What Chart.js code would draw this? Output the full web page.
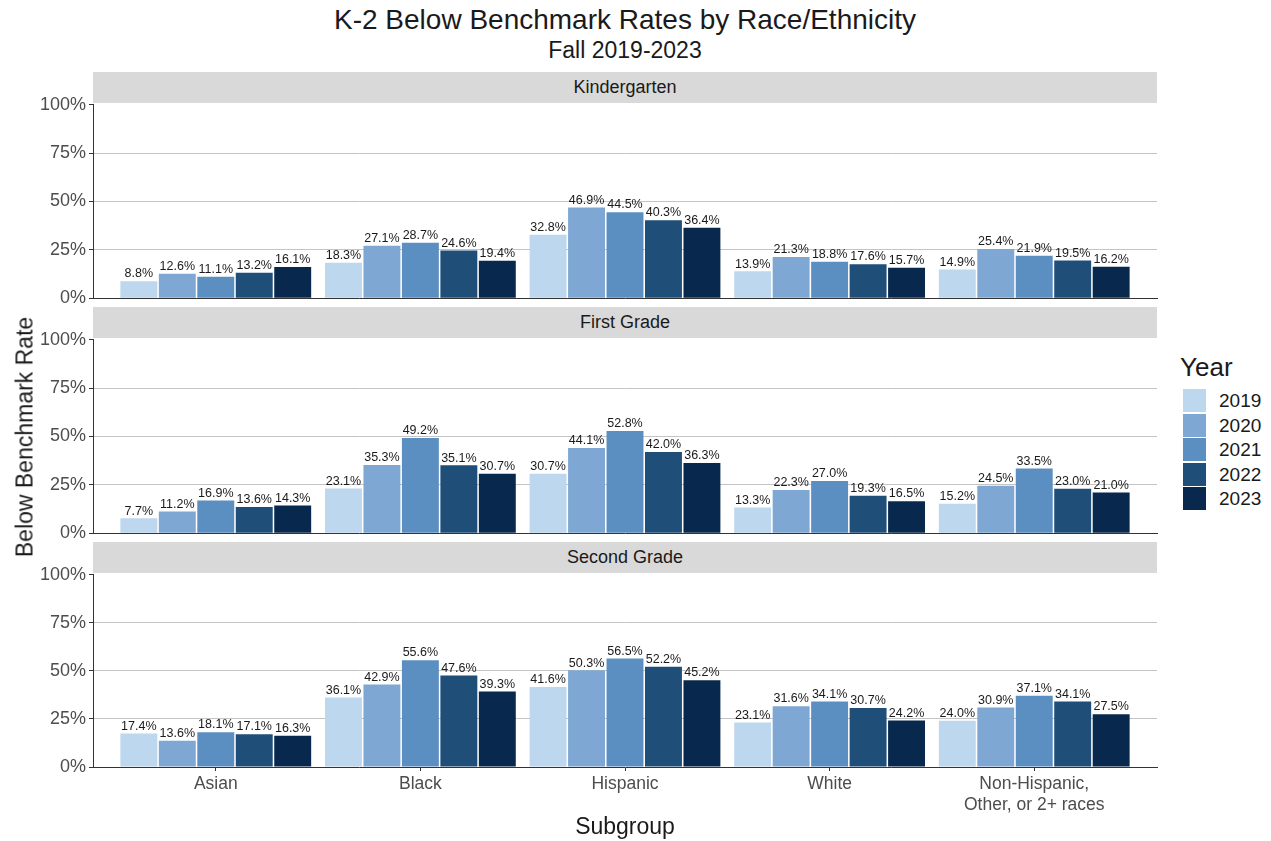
<!DOCTYPE html>
<html>
<head>
<meta charset="utf-8">
<script src="https://cdn.jsdelivr.net/npm/chart.js@4.4.1/dist/chart.umd.min.js"></script>
<style>
  body { margin: 0; background: #fff; }
  #wrap { position: relative; width: 1271px; height: 841px; font-family: "Liberation Sans", Arial, sans-serif; color: #1a1a1a; }
  .abs { position: absolute; white-space: nowrap; }
  .strip { position: absolute; left: 93px; width: 1064px; height: 31px; background: #d9d9d9; text-align: center; line-height: 31px; font-size: 18px; color: #1a1a1a; }
  canvas { position: absolute; left: 0; }
  .key { position: absolute; left: 1183px; width: 23px; height: 23px; }
  .keylab { position: absolute; left: 1219px; font-size: 19px; line-height: 23px; }
</style>
</head>
<body>
<div id="wrap">
  <div class="abs" style="left:0;width:1250px;top:3px;text-align:center;font-size:28px;line-height:34px;">K-2 Below Benchmark Rates by Race/Ethnicity</div>
  <div class="abs" style="left:0;width:1250px;top:36px;text-align:center;font-size:23px;line-height:28px;">Fall 2019-2023</div>

  <div class="strip" style="top:72px;">Kindergarten</div>
  <div class="strip" style="top:307px;">First Grade</div>
  <div class="strip" style="top:542px;">Second Grade</div>

  <canvas id="c0" style="top:91px;" width="1165" height="221"></canvas>
  <canvas id="c1" style="top:326px;" width="1165" height="221"></canvas>
  <canvas id="c2" style="top:561px;" width="1165" height="256"></canvas>

  <div class="abs" style="left:25px;top:437px;width:0;height:0;">
    <div style="position:absolute;transform:translate(-50%,-50%) rotate(-90deg);white-space:nowrap;font-size:23px;">Below Benchmark Rate</div>
  </div>
  <div class="abs" style="left:93px;width:1064px;top:812px;text-align:center;font-size:23px;line-height:28px;">Subgroup</div>

  <div class="abs" style="left:1180px;top:351px;font-size:26px;line-height:32px;">Year</div>
  <div id="legend"></div>
</div>
<script>
const subgroups = ["Asian", "Black", "Hispanic", "White", ["Non-Hispanic,", "Other, or 2+ races"]];
const years = ["2019", "2020", "2021", "2022", "2023"];
const yearColors = ["#bdd7ee", "#7ea8d3", "#5c8fc1", "#1f4e79", "#08294d"];
const yTicks = [0, 25, 50, 75, 100];

// rows = years, columns = subgroups
const kindergarten = [
  [8.8, 18.3, 32.8, 13.9, 14.9],
  [12.6, 27.1, 46.9, 21.3, 25.4],
  [11.1, 28.7, 44.5, 18.8, 21.9],
  [13.2, 24.6, 40.3, 17.6, 19.5],
  [16.1, 19.4, 36.4, 15.7, 16.2]
];
const firstGrade = [
  [7.7, 23.1, 30.7, 13.3, 15.2],
  [11.2, 35.3, 44.1, 22.3, 24.5],
  [16.9, 49.2, 52.8, 27.0, 33.5],
  [13.6, 35.1, 42.0, 19.3, 23.0],
  [14.3, 30.7, 36.3, 16.5, 21.0]
];
const secondGrade = [
  [17.4, 36.1, 41.6, 23.1, 24.0],
  [13.6, 42.9, 50.3, 31.6, 30.9],
  [18.1, 55.6, 56.5, 34.1, 37.1],
  [17.1, 47.6, 52.2, 30.7, 34.1],
  [16.3, 39.3, 45.2, 24.2, 27.5]
];

const font = "'Liberation Sans', Arial, sans-serif";

// value labels above each bar
const barLabels = {
  id: "barLabels",
  afterDatasetsDraw(chart) {
    const ctx = chart.ctx;
    ctx.save();
    ctx.font = "12.5px " + font;
    ctx.fillStyle = "#1a1a1a";
    ctx.textAlign = "center";
    ctx.textBaseline = "bottom";
    chart.data.datasets.forEach((ds, i) => {
      chart.getDatasetMeta(i).data.forEach((el, j) => {
        ctx.fillText(ds.data[j].y.toFixed(1) + "%", el.x, el.y - 1);
      });
    });
    ctx.restore();
  }
};

function makeChart(id, values, showX) {
  new Chart(document.getElementById(id), {
    type: "bar",
    data: {
      datasets: years.map((y, i) => ({
        label: y,
        data: values[i].map((v, j) => ({ x: j + 1, y: v })),
        backgroundColor: yearColors[i],
        categoryPercentage: 0.94,
        barPercentage: 0.96
      }))
    },
    plugins: [barLabels],
    options: {
      responsive: false,
      animation: false,
      events: [],
      layout: { padding: { top: 12, right: 8, bottom: showX ? 0 : 8, left: 0 } },
      plugins: { legend: { display: false }, tooltip: { enabled: false } },
      scales: {
        x: {
          type: "linear",
          min: 0.4,
          max: 5.6,
          offset: false,
          border: { color: "#333", width: 1 },
          grid: { display: showX, offset: false, drawOnChartArea: false, tickLength: 4, color: "#333" },
          afterBuildTicks(scale) { scale.ticks = subgroups.map((s, j) => ({ value: j + 1 })); },
          ticks: {
            display: showX,
            color: "#4d4d4d",
            font: { family: font, size: 17.5 },
            padding: 3,
            maxRotation: 0,
            autoSkip: false,
            callback: v => subgroups[Math.round(v) - 1]
          },
          afterFit(scale) { scale.height = showX ? 50 : 0; }
        },
        y: {
          min: 0,
          max: 100,
          border: { color: "#333", width: 1 },
          grid: {
            color: ctx => ctx.tick && ctx.tick.value > 0 && ctx.tick.value < 100 ? "#c4c4c4" : "transparent",
            lineWidth: 1,
            tickLength: 4,
            tickColor: ctx => ctx.tick && yTicks.includes(ctx.tick.value) ? "#333" : "transparent"
          },
          ticks: {
            stepSize: 12.5,
            color: "#4d4d4d",
            font: { family: font, size: 18 },
            padding: 3,
            callback: v => yTicks.includes(v) ? v + "%" : ""
          },
          afterFit(scale) { scale.width = 93; }
        }
      }
    }
  });
}

makeChart("c0", kindergarten, false);
makeChart("c1", firstGrade, false);
makeChart("c2", secondGrade, true);

const legend = document.getElementById("legend");
years.forEach((y, i) => {
  const top = 389 + i * 24.5;
  legend.insertAdjacentHTML("beforeend",
    `<div class="key" style="top:${top}px;background:${yearColors[i]}"></div>` +
    `<div class="keylab" style="top:${top}px">${y}</div>`);
});
</script>
</body>
</html>
